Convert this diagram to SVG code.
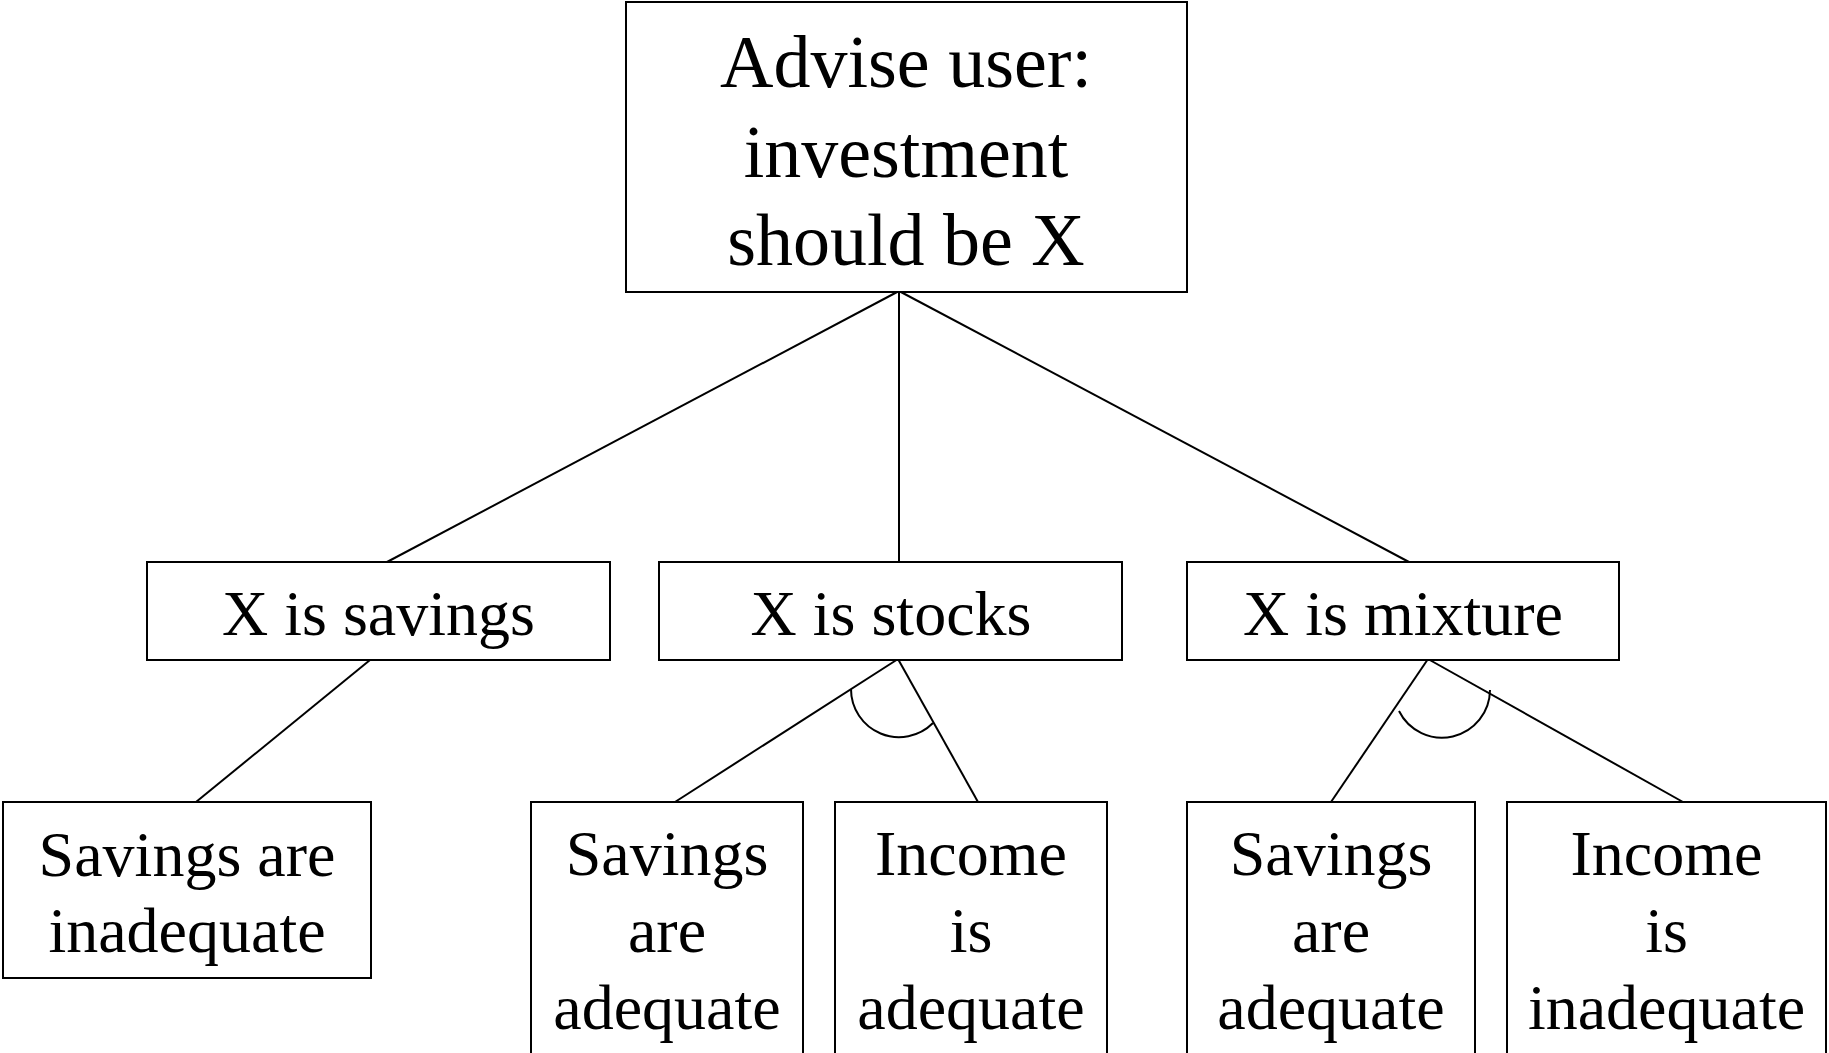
<svg xmlns="http://www.w3.org/2000/svg" width="1829" height="1053" viewBox="0 0 1829 1053">
<style>
rect{fill:#fff;stroke:#000;stroke-width:2}
text{font-family:"Liberation Serif","Times New Roman",serif;fill:#000;text-anchor:middle}
.t{font-size:74px}
.m{font-size:64px}
#connectors line,#connectors path{stroke:#000;stroke-width:2;fill:none}
</style>
<rect x="0" y="0" width="1829" height="1053" style="stroke:none"/>
<g id="connectors">
<line x1="899" y1="291" x2="387" y2="562"/>
<line x1="899" y1="291" x2="899" y2="562"/>
<line x1="899" y1="291" x2="1409" y2="562"/>
<line x1="370" y1="660" x2="196" y2="802"/>
<line x1="898" y1="659" x2="675" y2="802"/>
<line x1="898" y1="659" x2="978" y2="802"/>
<line x1="1428" y1="659" x2="1331" y2="802"/>
<line x1="1428" y1="659" x2="1683" y2="802"/>
<path d="M851 689 A48 48 0 0 0 933 723"/>
<path d="M1490 690 A48 48 0 0 1 1399 711"/>
</g>
<g id="n_top">
<rect x="626" y="2" width="561" height="290"/>
<text class="t" x="906" y="87">Advise user:</text>
<text class="t" x="906" y="177">investment</text>
<text class="t" x="906" y="265">should be X</text>
</g>
<g id="n_savings">
<rect x="147" y="562" width="463" height="98"/>
<text class="m" x="378.5" y="635">X is savings</text>
</g>
<g id="n_stocks">
<rect x="659" y="562" width="463" height="98"/>
<text class="m" x="891" y="635">X is stocks</text>
</g>
<g id="n_mixture">
<rect x="1187" y="562" width="432" height="98"/>
<text class="m" x="1403" y="635">X is mixture</text>
</g>
<g id="n_sav_inadequate">
<rect x="3" y="802" width="368" height="176"/>
<text class="m" x="187" y="876">Savings are</text>
<text class="m" x="187" y="952">inadequate</text>
</g>
<g id="n_sav_adequate_1">
<rect x="531" y="802" width="272" height="270"/>
<text class="m" x="667" y="875">Savings</text>
<text class="m" x="667" y="952">are</text>
<text class="m" x="667" y="1029">adequate</text>
</g>
<g id="n_inc_adequate">
<rect x="835" y="802" width="272" height="270"/>
<text class="m" x="971" y="875">Income</text>
<text class="m" x="971" y="952">is</text>
<text class="m" x="971" y="1029">adequate</text>
</g>
<g id="n_sav_adequate_2">
<rect x="1187" y="802" width="288" height="270"/>
<text class="m" x="1331" y="875">Savings</text>
<text class="m" x="1331" y="952">are</text>
<text class="m" x="1331" y="1029">adequate</text>
</g>
<g id="n_inc_inadequate">
<rect x="1507" y="802" width="319" height="270"/>
<text class="m" x="1666.5" y="875">Income</text>
<text class="m" x="1666.5" y="952">is</text>
<text class="m" x="1666.5" y="1029">inadequate</text>
</g>
</svg>
